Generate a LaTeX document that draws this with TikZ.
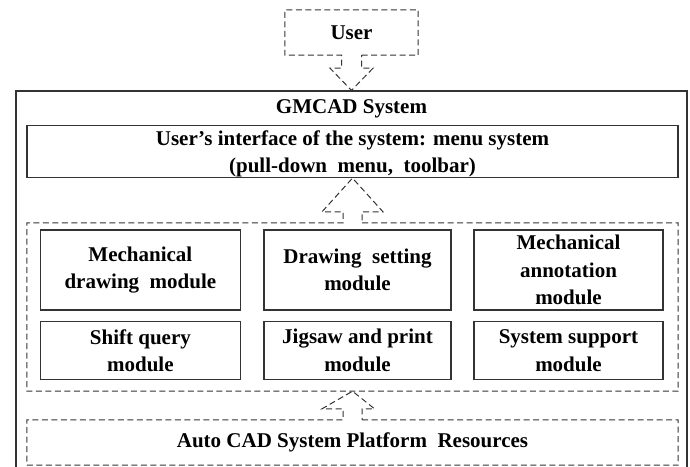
\documentclass[tikz,border=0pt]{standalone}
\usepackage{fontspec}
\setmainfont{Liberation Serif}
\usetikzlibrary{calc}
\definecolor{ln}{HTML}{333333}
\begin{document}
\begin{tikzpicture}[x=1pt,y=-1pt,
  lbl/.style={font=\fontsize{21}{27.5}\selectfont\bfseries, align=center, inner sep=0pt, text=black},
  solidbox/.style={draw=ln, line width=1.2pt},
  dsh/.style={draw=ln, line width=1pt, dash pattern=on 6pt off 3.5pt},
  modbox/.style={lbl, solidbox, minimum height=#1},
  modbox/.default=80pt
]
\useasboundingbox (0,0) rectangle (690,466);
\clip (0,0) rectangle (690,466);
\fill[white] (0,0) rectangle (690,466);

% outer GMCAD box
\node[solidbox, minimum width=671pt, minimum height=384pt, inner sep=0pt] (outer) at (351.5,283) {};
\node[lbl] (title) at (351.5,109) {GMCAD System};

% user box
\node[lbl, minimum width=133pt, minimum height=45pt] (user) at (351.5,32.5) {User};
\draw[dsh] ($(user.south)+(10,0)$) -| (user.north east) -| (user.south west)
  -- ($(user.south)+(-10,0)$) -- ++(0,13) -- ++(-11.5,0) -- (outer.north)
  -- ($(user.south)+(21.5,13)$) -- ++(-11.5,0) -- cycle;

% interface box
\node[solidbox, minimum width=651pt, minimum height=52pt, inner sep=0pt] (iface) at (352.5,151.5) {};
\node[lbl] (ifacetext) at (352.5,154) {User's interface of the system: menu system\\(pull-down\ \ menu,\ \ toolbar)};

% module group
\node[minimum width=651pt, minimum height=168pt, inner sep=0pt] (group) at (352.5,307) {};
\draw[dsh] ($(group.north)+(9.5,0)$) -| (group.south east) -| (group.north west)
  -- ($(group.north)+(-9.5,0)$) -- ++(0,-11) -- ++(-21,0) -- (iface.south)
  -- ($(group.north)+(30.5,-11)$) -- ++(-21,0) -- cycle;

% modules
\node[modbox, minimum width=199.5pt] (m1) at (140.4,270) {Mechanical\\drawing\ \ module};
\node[modbox, minimum width=187pt] (m2) at (357.5,270) {Drawing\ \ setting\\module};
\node[modbox, minimum width=189pt] (m3) at (568.5,270) {Mechanical\\annotation\\module};
\node[modbox=57.5pt, minimum width=199.5pt] (m4) at (140.4,350.5) {Shift query\\module};
\node[modbox=57.5pt, minimum width=187pt] (m5) at (357.5,350.5) {Jigsaw and print\\module};
\node[modbox=57.5pt, minimum width=189pt] (m6) at (568.5,350.5) {System support\\module};

% AutoCAD platform
\node[lbl, minimum width=651pt, minimum height=45pt] (acad) at (352.5,442.5) {Auto\ CAD System Platform\ \ Resources};
\draw[dsh] ($(acad.north)+(9.5,0)$) -| (acad.south east) -| (acad.north west)
  -- ($(acad.north)+(-9.5,0)$) -- ++(0,-11) -- ++(-21,0) -- (group.south)
  -- ($(acad.north)+(22,-11)$) -- ++(-12.5,0) -- cycle;
\end{tikzpicture}
\end{document}
